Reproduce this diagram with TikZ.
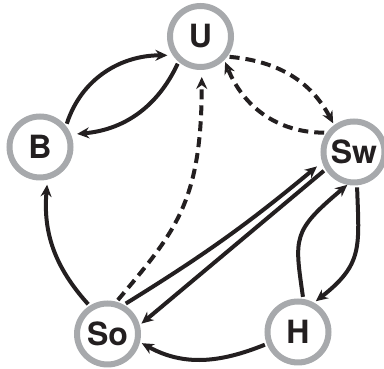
\documentclass[tikz,border=0pt]{standalone}
\usepackage{fontspec}
\setsansfont{TeX Gyre Heros}
\usetikzlibrary{arrows.meta}
\definecolor{ring}{HTML}{A7A9AC}
\definecolor{ink}{HTML}{231F20}
\begin{document}
\begin{tikzpicture}[x=1pt,y=1pt,
  state/.style={circle, draw=ring, line width=6pt, fill=white, minimum size=61pt,
    inner sep=0pt, outer sep=5pt, text=ink,
    font=\sffamily\bfseries\fontsize{32}{32}\selectfont},
  link/.style={draw=ink, line width=4pt, -{Stealth[length=12pt,width=11pt]}},
  dlink/.style={link, dash pattern=on 10pt off 6pt}]
\useasboundingbox (0,0) rectangle (384,369);
\node[state] (U)  at (200.5,332.5) {U};
\node[state] (B)  at (40,222) {B};
\node[state] (Sw) at (354,217) {Sw};
\node[state] (So) at (107.5,35) {So};
\node[state] (H)  at (298,37) {H};
\draw[link, shorten >=3pt] (B.41) to[out=72, in=180] (U.212);
\draw[link, shorten >=4pt] (U.230) to[out=245, in=5] (B.21);
\draw[dlink] (U.325) to[out=-5, in=118] (Sw.126);
\draw[dlink] (Sw.147) to[out=180, in=-68] (U.314);
\draw[dlink, shorten >=5pt] (So.73) .. controls +(50:90) and +(-90:130) .. (U.272);
\draw[link, shorten >=4.5pt] (So.59) to[bend right=4] (Sw.199);
\draw[link] (Sw.212) -- (So.17);
\draw[link, shorten >=-2.5pt] (H.82) .. controls +(98:60) and +(220:70) .. (Sw.256);
\draw[link] (Sw.275) .. controls +(-88:60) and +(38:60) .. (H.60);
\draw[link] (H.201) to[out=202, in=-29] (So.-15);
\draw[link, shorten >=3pt] (So.123) to[out=132, in=265] (B.-78);
\end{tikzpicture}
\end{document}
